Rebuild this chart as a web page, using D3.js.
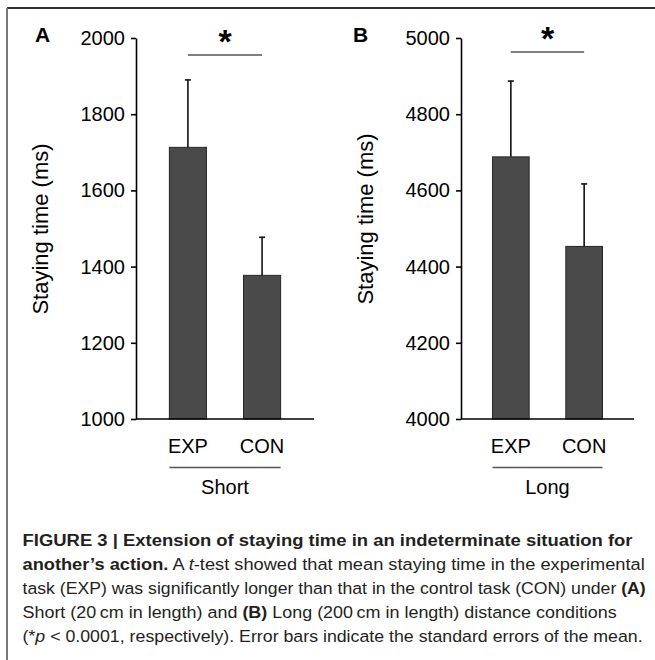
<!DOCTYPE html>
<html>
<head>
<meta charset="utf-8">
<script src="https://cdn.jsdelivr.net/npm/d3@7"></script>
<style>
  body { margin: 0; background: #fff; }
  svg { display: block; font-family: "Liberation Sans", Arial, sans-serif; }
</style>
</head>
<body>
<script>
// values
var groups = ["EXP", "CON"];
var shortMeans = [1713, 1377];
var shortErrors = [177, 100];
var longMeans = [4688, 4453];
var longErrors = [199, 164];
var shortTicks = [1000, 1200, 1400, 1600, 1800, 2000];
var longTicks = [4000, 4200, 4400, 4600, 4800, 5000];
var yTitle = "Staying time (ms)";

// caption, one entry per line: [text, style]
var captionLines = [
  [["FIGURE 3 | Extension of staying time in an indeterminate situation for", "b"]],
  [["another\u2019s action.", "b"], [" A ", ""], ["t", "i"], ["-test showed that mean staying time in the experimental", ""]],
  [["task (EXP) was significantly longer than that in the control task (CON) under ", ""], ["(A)", "b"]],
  [["Short (20\u2009cm in length) and ", ""], ["(B)", "b"], [" Long (200\u2009cm in length) distance conditions", ""]],
  [["(*", ""], ["p", "i"], [" < 0.0001, respectively). Error bars indicate the standard errors of the mean.", ""]]
];
var captionEnds = [633, 645, 646, 617, 643];

var width = 655, height = 660;

var svg = d3.select("body").append("svg")
    .attr("width", width)
    .attr("height", height);

// frame
svg.append("line").attr("x1", 7).attr("x2", width).attr("y1", 8).attr("y2", 8)
    .attr("stroke", "#333").attr("stroke-width", 2);
svg.append("line").attr("x1", 7).attr("x2", 7).attr("y1", 8).attr("y2", height)
    .attr("stroke", "#777").attr("stroke-width", 2);

var panels = [
  {letter: "A", name: "Short", means: shortMeans, errors: shortErrors, ticks: shortTicks,
   left: 136, right: 314, outer: 0.45, letterX: 35, titleY: 229, sigY: 55},
  {letter: "B", name: "Long", means: longMeans, errors: longErrors, ticks: longTicks,
   left: 461, right: 634, outer: 0.43, letterX: 353, titleY: 219, sigY: 52}
];

var plotTop = 38, plotBottom = 419;

panels.forEach(function(p) {
  var g = svg.append("g");

  var y = d3.scaleLinear()
      .domain(d3.extent(p.ticks))
      .range([plotBottom, plotTop]);

  var x = d3.scaleBand()
      .domain(groups)
      .range([p.left, p.right])
      .paddingInner(0.5)
      .paddingOuter(p.outer);

  var data = groups.map(function(k, i) {
    return {key: k, mean: p.means[i], err: p.errors[i]};
  });

  // bars
  g.selectAll(".bar")
    .data(data)
    .enter().append("rect")
      .attr("class", "bar")
      .attr("x", function(d) { return x(d.key); })
      .attr("width", x.bandwidth())
      .attr("y", function(d) { return y(d.mean); })
      .attr("height", function(d) { return plotBottom - y(d.mean); })
      .attr("fill", "#4a4a4a")
      .attr("stroke", "#262626")
      .attr("stroke-width", 1);

  // error bars (upper only)
  var eb = g.selectAll(".err")
    .data(data)
    .enter().append("g")
      .attr("class", "err")
      .attr("stroke", "#111")
      .attr("stroke-width", 1.6);
  eb.append("line")
      .attr("x1", function(d) { return x(d.key) + x.bandwidth() / 2; })
      .attr("x2", function(d) { return x(d.key) + x.bandwidth() / 2; })
      .attr("y1", function(d) { return y(d.mean); })
      .attr("y2", function(d) { return y(d.mean + d.err); });
  eb.append("line")
      .attr("x1", function(d) { return x(d.key) + x.bandwidth() / 2 - 3; })
      .attr("x2", function(d) { return x(d.key) + x.bandwidth() / 2 + 3; })
      .attr("y1", function(d) { return y(d.mean + d.err); })
      .attr("y2", function(d) { return y(d.mean + d.err); });

  // y axis
  var yAxis = g.append("g")
      .attr("transform", "translate(" + p.left + ",0)")
      .call(d3.axisLeft(y).tickValues(p.ticks).tickFormat(d3.format("d"))
        .tickSize(5).tickSizeOuter(0).tickPadding(6));
  yAxis.selectAll("path, line").attr("stroke", "#000").attr("stroke-width", 1.6);
  yAxis.selectAll("text")
      .attr("fill", "#000")
      .style("font-size", "20px")
      .style("font-family", "'Liberation Sans', Arial, sans-serif");

  // x axis baseline
  g.append("line")
      .attr("x1", p.left).attr("x2", p.right)
      .attr("y1", plotBottom).attr("y2", plotBottom)
      .attr("stroke", "#000").attr("stroke-width", 1.6);

  // category labels
  g.selectAll(".cat")
    .data(groups)
    .enter().append("text")
      .attr("class", "cat")
      .attr("x", function(d) { return x(d) + x.bandwidth() / 2; })
      .attr("y", plotBottom + 34)
      .attr("text-anchor", "middle")
      .style("font-size", "20px")
      .text(function(d) { return d; });

  // group line and name
  g.append("line")
      .attr("x1", x(groups[0])).attr("x2", x(groups[1]) + x.bandwidth())
      .attr("y1", plotBottom + 48.5).attr("y2", plotBottom + 48.5)
      .attr("stroke", "#555").attr("stroke-width", 1.6);
  g.append("text")
      .attr("x", (x(groups[0]) + x(groups[1]) + x.bandwidth()) / 2)
      .attr("y", plotBottom + 75)
      .attr("text-anchor", "middle")
      .style("font-size", "20px")
      .text(p.name);

  // significance bracket
  var c0 = x(groups[0]) + x.bandwidth() / 2, c1 = x(groups[1]) + x.bandwidth() / 2;
  g.append("line")
      .attr("x1", c0).attr("x2", c1)
      .attr("y1", p.sigY).attr("y2", p.sigY)
      .attr("stroke", "#555").attr("stroke-width", 1.6);
  g.append("text")
      .attr("x", (c0 + c1) / 2)
      .attr("y", p.sigY - 2)
      .attr("text-anchor", "middle")
      .style("font-size", "34px")
      .style("font-weight", "bold")
      .text("*");

  // y title
  g.append("text")
      .attr("transform", "translate(" + (p.left - 88) + "," + p.titleY + ") rotate(-90)")
      .attr("text-anchor", "middle")
      .style("font-size", "22px")
      .text(yTitle);

  // panel letter
  g.append("text")
      .attr("x", p.letterX)
      .attr("y", 42)
      .style("font-size", "21px")
      .style("font-weight", "bold")
      .text(p.letter);
});

// caption
var capX = 22.5;
captionLines.forEach(function(line, i) {
  var t = svg.append("text")
      .attr("x", capX)
      .attr("y", 546 + i * 24)
      .attr("fill", "#231f20")
      .style("font-size", "17px");
  line.forEach(function(seg) {
    t.append("tspan")
      .style("font-weight", seg[1] === "b" ? "bold" : "normal")
      .style("font-style", seg[1] === "i" ? "italic" : "normal")
      .text(seg[0]);
  });
  var w = t.node().getComputedTextLength();
  var k = (captionEnds[i] - capX) / w;
  t.attr("transform", "translate(" + capX + ",0) scale(" + k + ",1) translate(" + (-capX) + ",0)");
});
</script>
</body>
</html>
